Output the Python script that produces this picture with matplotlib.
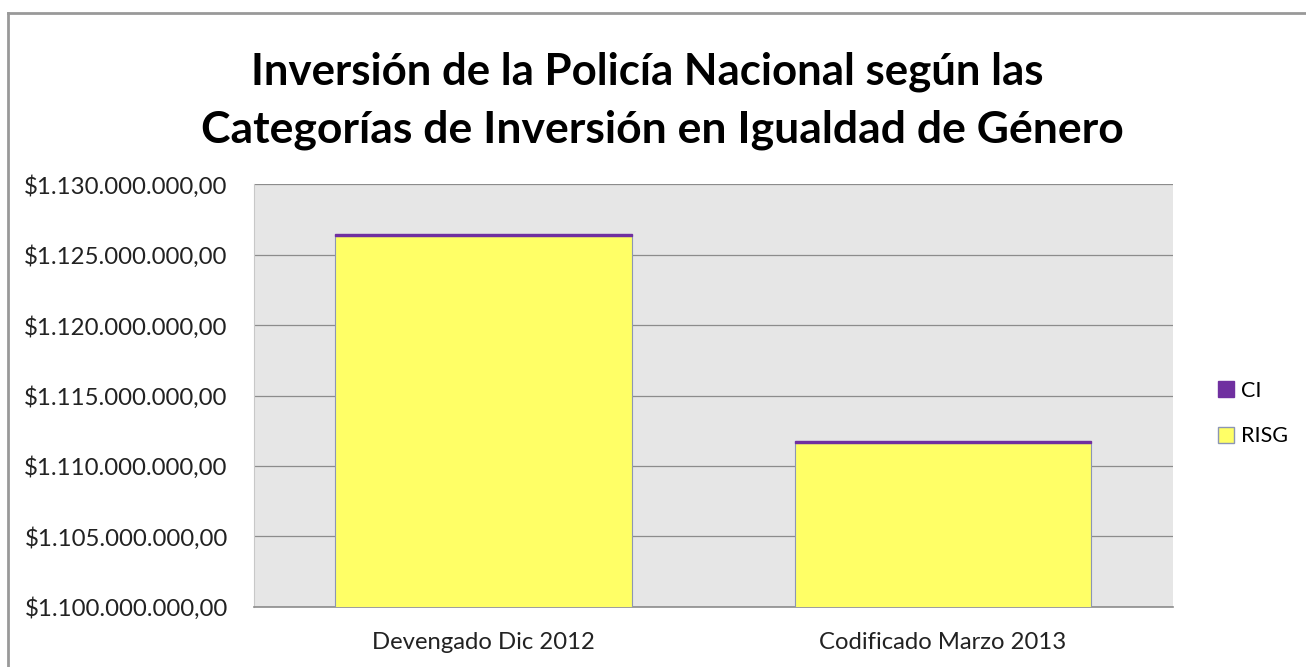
import matplotlib
matplotlib.use("Agg")

import matplotlib.pyplot as plt
import matplotlib.patches as mpatches
from matplotlib.ticker import FuncFormatter
from matplotlib.lines import Line2D

# data
categories = ["Devengado Dic 2012", "Codificado Marzo 2013"]
risg = [1126350000, 1111650000]
ci = [90000, 90000]
y_ticks = [1100000000, 1105000000, 1110000000, 1115000000,
           1120000000, 1125000000, 1130000000]

COLOR_RISG = "#ffff66"
COLOR_CI = "#7030a0"
COLOR_BG = "#e6e6e6"

plt.rcParams["font.family"] = ["Lato", "DejaVu Sans"]

fig = plt.figure(figsize=(13.06, 6.67), dpi=100)
ax = fig.add_axes([0.1945, 0.09, 0.7035, 0.634])

x = range(len(categories))
ax.bar(x, risg, width=0.646, color=COLOR_RISG, edgecolor="#8c96b4",
       linewidth=0.8, zorder=3)
ax.bar(x, ci, width=0.646, bottom=risg, color=COLOR_CI, edgecolor=COLOR_CI,
       linewidth=1.0, zorder=3)

ax.set_xlim(-0.5, 1.5)
ax.set_ylim(y_ticks[0], y_ticks[-1])
ax.set_yticks(y_ticks)


def money(v, pos):
    s = f"{v:,.2f}"
    s = s.replace(",", "X").replace(".", ",").replace("X", ".")
    return "$" + s


ax.yaxis.set_major_formatter(FuncFormatter(money))
ax.set_xticks(list(x))
ax.set_xticklabels(categories)
ax.tick_params(axis="both", length=0, colors="#222222")
ax.tick_params(axis="y", pad=19, labelsize=17.3)
ax.tick_params(axis="x", pad=18, labelsize=17.2)

ax.set_facecolor(COLOR_BG)
ax.grid(axis="y", color="#8c8c8c", linewidth=0.9, zorder=1)
ax.set_axisbelow(True)
for s in ["top", "right"]:
    ax.spines[s].set_visible(False)
ax.spines["left"].set_color("#c8c8c8")
ax.spines["bottom"].set_color("#8c8c8c")
ax.spines["bottom"].set_linewidth(1.2)

fig.text(0.4958, 0.893, "Inversión de la Policía Nacional según las",
         ha="center", va="center", fontsize=31.5, fontweight="bold")
fig.text(0.507, 0.806, "Categorías de Inversión en Igualdad de Género",
         ha="center", va="center", fontsize=32, fontweight="bold")

handles = [
    mpatches.Patch(facecolor=COLOR_CI, edgecolor=COLOR_CI, label="CI"),
    mpatches.Patch(facecolor=COLOR_RISG, edgecolor="#8c96b4", label="RISG"),
]
fig.legend(handles=handles, loc="center left", bbox_to_anchor=(0.918, 0.38),
           frameon=False, fontsize=15.5, handlelength=0.75, handleheight=0.75,
           handletextpad=0.3, labelspacing=1.2)

# outer frame (left and top)
fig.add_artist(Line2D([0.0065, 0.0065], [0.0, 0.98], color="#999999",
                      linewidth=2, transform=fig.transFigure))
fig.add_artist(Line2D([0.0065, 1.0], [0.98, 0.98], color="#999999",
                      linewidth=2, transform=fig.transFigure))

fig.savefig("out.png", dpi=100)
